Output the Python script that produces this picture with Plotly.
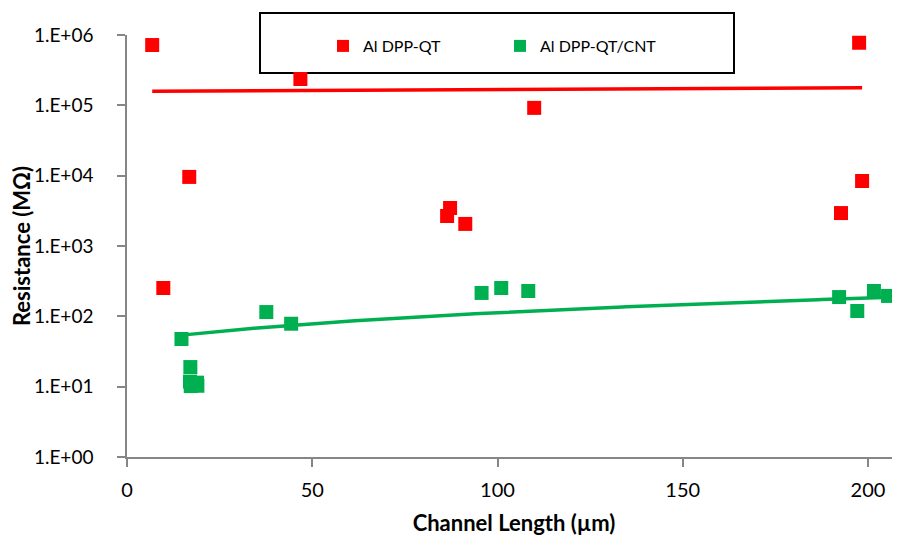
import numpy as np
import plotly.graph_objects as go

# ---- data ----
red_x = [6.8, 46.8, 9.8, 16.8, 86.4, 87.2, 91.3, 109.9, 197.6, 198.4, 192.7]
red_y = [7.2e5, 2.37e5, 253, 9.6e3, 2.67e3, 3.47e3, 2.06e3, 9.2e4, 7.76e5, 8.4e3, 2.94e3]

green_x = [14.7, 37.6, 44.3, 17.1, 17.0, 18.9, 17.2, 19.0, 95.7, 101.0, 108.3, 192.2, 197.1, 201.6, 205.4]
green_y = [47.6, 115, 78.5, 19, 11.8, 11.4, 10.2, 10.3, 215, 253, 229, 188, 119, 229, 195]

# linear trendlines (value = slope*x + intercept)
red_trend = [104.0, 1.573e5]      # slope, intercept
green_trend = [0.69, 43.9]

y_tickvals = [1, 10, 100, 1e3, 1e4, 1e5, 1e6]
y_ticktext = ["1.E+00", "1.E+01", "1.E+02", "1.E+03", "1.E+04", "1.E+05", "1.E+06"]
x_tickvals = [0, 50, 100, 150, 200]

series_names = ["Al DPP-QT", "Al DPP-QT/CNT"]
RED = "#FF0000"
GREEN = "#00B050"
X_RANGE = [0, 208.9]
FONT = "Lato"

fig = go.Figure()

# trendlines
rx = np.linspace(min(red_x), max(red_x), 200)
fig.add_trace(go.Scatter(x=rx, y=red_trend[0] * rx + red_trend[1], mode="lines",
                         line=dict(color=RED, width=3.5), showlegend=False, hoverinfo="skip"))
gx = np.linspace(min(green_x), X_RANGE[1], 200)
fig.add_trace(go.Scatter(x=gx, y=green_trend[0] * gx + green_trend[1], mode="lines",
                         line=dict(color=GREEN, width=3.5), showlegend=False, hoverinfo="skip"))

# data points
fig.add_trace(go.Scatter(x=red_x, y=red_y, mode="markers", name=series_names[0],
                         marker=dict(symbol="square", size=14, color=RED), cliponaxis=False))
fig.add_trace(go.Scatter(x=green_x, y=green_y, mode="markers", name=series_names[1],
                         marker=dict(symbol="square", size=14, color=GREEN), cliponaxis=False))

# page offset (browser body margin) compensation
OFF = 7
W, H = 900, 539
L, T = 126 - OFF, 34 - OFF
R = OFF
B = H - (456 - OFF)
pw, ph = W - L - R, H - T - B

def px_x(p):  # screen pixel -> paper x
    return (p - OFF - L) / pw

def px_y(p):  # screen pixel -> paper y
    return (H - B - (p - OFF)) / ph

# legend frame
fig.add_shape(type="rect", xref="paper", yref="paper",
              x0=px_x(259), x1=px_x(733), y0=px_y(72), y1=px_y(12),
              line=dict(color="black", width=2), fillcolor="white", layer="below")

axis_common = dict(showline=True, linecolor="#868686", linewidth=1.5, ticks="outside",
                   ticklen=8, tickcolor="#868686", tickwidth=1.5, showgrid=False, zeroline=False,
                   automargin=False)

fig.update_layout(
    width=W, height=H,
    margin=dict(l=L, r=R, t=T, b=B, pad=0, autoexpand=False),
    paper_bgcolor="white", plot_bgcolor="white",
    font=dict(family=FONT, color="black"),
    xaxis=dict(range=X_RANGE, tickvals=x_tickvals, ticklabelstandoff=6,
               tickfont=dict(family=FONT, size=20, color="black"),
               title=dict(text="<b>Channel Length (µm)</b>", font=dict(family=FONT, size=22), standoff=16),
               **axis_common),
    yaxis=dict(type="log", range=[0, 6], tickvals=y_tickvals, ticktext=y_ticktext,
               ticklabelstandoff=20,
               tickfont=dict(family=FONT, size=19, color="black"),
               title=dict(text="<b>Resistance (MΩ)</b>", font=dict(family=FONT, size=22), standoff=4),
               **axis_common),
    legend=dict(orientation="h", x=px_x(322), y=px_y(28), xanchor="left", yanchor="top",
                bgcolor="rgba(0,0,0,0)", borderwidth=0, entrywidth=132, entrywidthmode="pixels",
                font=dict(family=FONT, size=16, color="black"), itemsizing="constant"),
    showlegend=True,
)

fig.write_html("out.html")
